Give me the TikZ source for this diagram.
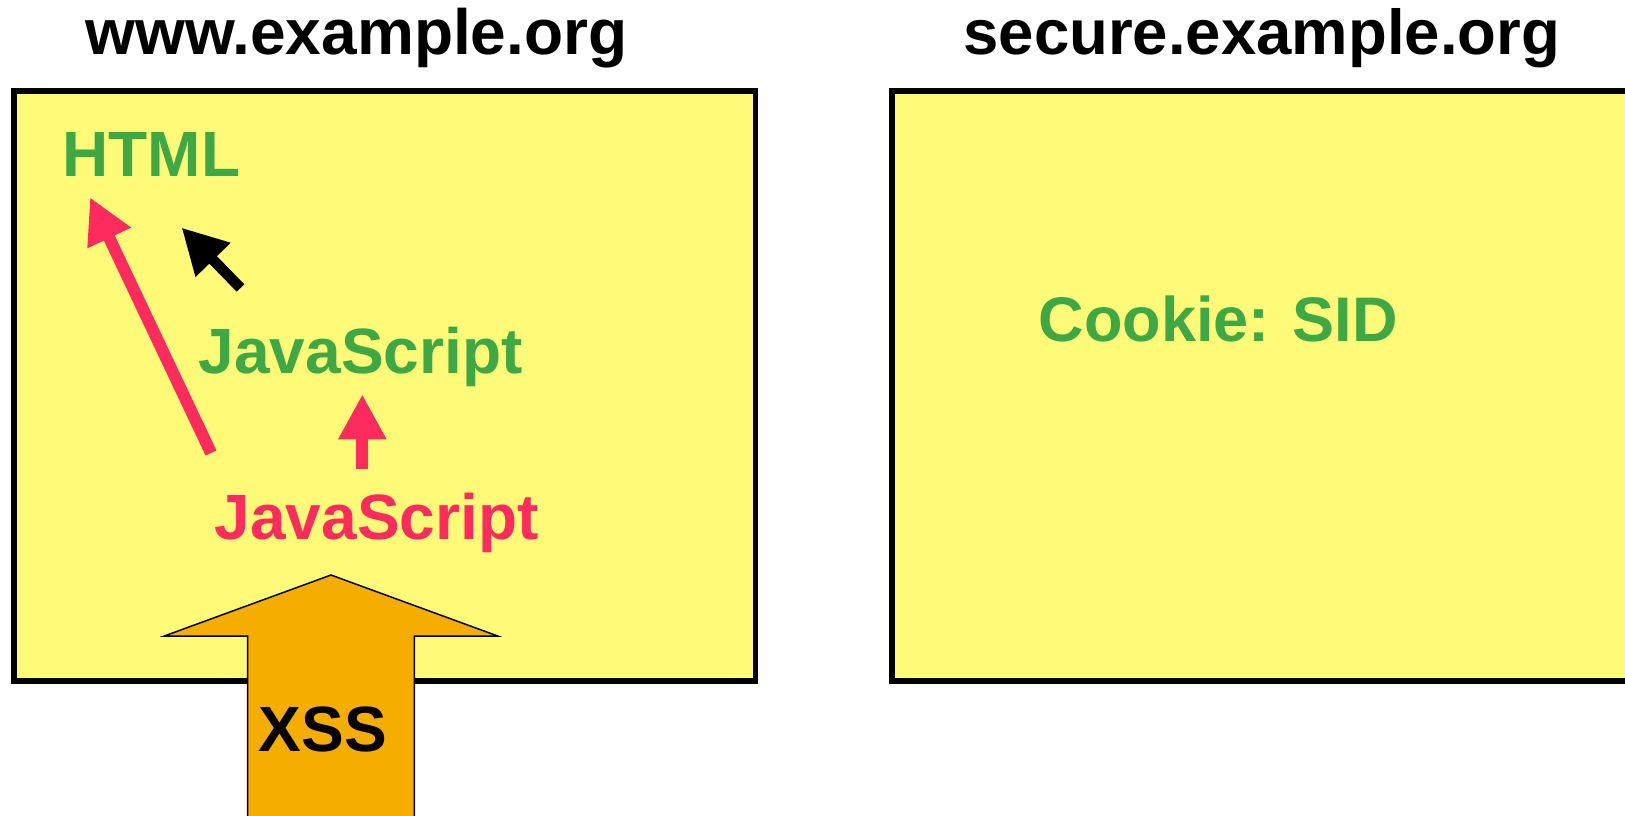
\documentclass[tikz,border=0pt]{standalone}
\usepackage{fontspec}
\setmainfont{Liberation Sans}
\usetikzlibrary{arrows.meta}

\definecolor{originfill}{RGB}{255,250,120}
\definecolor{attackred}{RGB}{254,44,94}
\definecolor{codegreen}{RGB}{62,168,68}
\definecolor{xssorange}{RGB}{245,173,0}

\begin{document}
\begin{tikzpicture}[x=1pt,y=-1pt,
  txt/.style={inner sep=0pt, anchor=base, font=\fontsize{64}{70}\selectfont\bfseries},
  origin/.style={draw=black, line width=5.7pt, fill=originfill, inner sep=0pt},
  redarrow/.style={draw=attackred, line width=12pt, -{Triangle[length=45pt,width=45pt]}},
  blackarrow/.style={draw=black, line width=10.6pt, -{Triangle[length=45pt,width=46pt]}},
  bigarrow/.style={draw=black, line width=1.5pt, fill=xssorange, line join=miter}]

\useasboundingbox (0,0) rectangle (1625,815);
\clip (0,0) rectangle (1625,815);

% the two origins
\node[origin, minimum width=741.7pt, minimum height=589.7pt] (wwwbox) at (384.65,386.15) {};
\node[origin, minimum width=760pt, minimum height=589.7pt] (securebox) at (1272,386.15) {};

% site names
\node[txt] (wwwtitle) at (356.5,54.3) {www.example.org};
\node[txt, font=\fontsize{63.5}{70}\selectfont\bfseries] (securetitle) at (1261.8,54) {secure.example.org};

% contents of www.example.org
\node[txt, text=codegreen] (html) at (151.3,176.5) {HTML};
\node[txt, text=codegreen] (jsgreen) at (360.7,373.3) {JavaScript};
\node[txt, text=attackred] (jsred) at (376.7,539) {JavaScript};

% contents of secure.example.org
\node[txt, text=codegreen, font=\fontsize{63}{70}\selectfont\bfseries] (cookie) at (1218.3,341.5) {Cookie: SID};

% arrow ends
\coordinate (redtail) at (211,453);
\coordinate (redtip) at (90,197.3);
\coordinate (uptail) at (362.3,468.7);
\coordinate (uptip) at (362.3,394.3);
\coordinate (blacktail) at (240.5,288);
\coordinate (blacktip) at (181.7,227.7);

\draw[redarrow] (redtail) -- (redtip);
\draw[redarrow] (uptail) -- (uptip);
\draw[blackarrow] (blacktail) -- (blacktip);

% injected script entering the page
\coordinate (xsstip) at (331,575);
\draw[bigarrow] (xsstip) -- (497.7,636) -- (414.3,636) -- (414.3,830)
  -- (247.7,830) -- (247.7,636) -- (164.3,636) -- cycle;
\node[txt] (xss) at (322.9,751.7) {XSS};
\end{tikzpicture}
\end{document}
